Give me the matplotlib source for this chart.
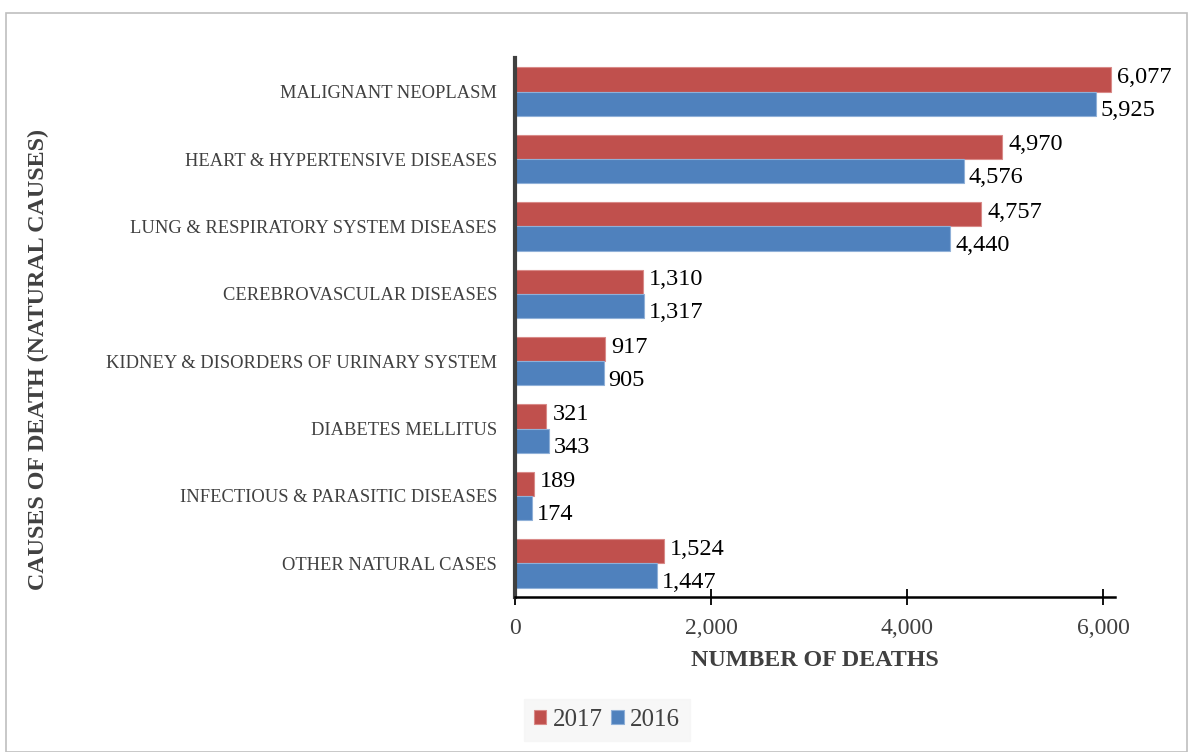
import matplotlib
matplotlib.use("Agg")
import matplotlib.pyplot as plt
import numpy as np
from matplotlib.patches import Rectangle

categories = ["MALIGNANT NEOPLASM", "HEART & HYPERTENSIVE DISEASES",
              "LUNG & RESPIRATORY SYSTEM DISEASES", "CEREBROVASCULAR DISEASES",
              "KIDNEY & DISORDERS OF URINARY SYSTEM", "DIABETES MELLITUS",
              "INFECTIOUS & PARASITIC DISEASES", "OTHER NATURAL CASES"]
deaths_2017 = [6077, 4970, 4757, 1310, 917, 321, 189, 1524]
deaths_2016 = [5925, 4576, 4440, 1317, 905, 343, 174, 1447]
xticks = [0, 2000, 4000, 6000]

plt.rcParams['font.family'] = ['Liberation Serif', 'DejaVu Serif']

fig = plt.figure(figsize=(11.93, 7.52), dpi=100)
fig.patches.append(Rectangle((6/1193, 0.0), 1181/1193, 1 - 13/752, transform=fig.transFigure,
                             fill=False, edgecolor='#bfbfbf', linewidth=1.2))
ax = fig.add_axes([515/1193, 1 - 597/752, (1115-515)/1193, (597-58)/752])

n = len(categories)
y = np.arange(n)
h = 0.36
red = '#C0504D'
blue = '#4F81BD'
b1 = ax.barh(y - h/2, deaths_2017, height=h, color=red, edgecolor='#d98a88', linewidth=0.8, label='2017')
b2 = ax.barh(y + h/2, deaths_2016, height=h, color=blue, edgecolor='#8fb0d8', linewidth=0.8, label='2016')

for yy, v in zip(y - h/2, deaths_2017):
    ax.text(v + 60, yy - 0.03, f"{v:,}", va='center', ha='left', fontsize=17.5, color='black')
for yy, v in zip(y + h/2, deaths_2016):
    ax.text(v + 50, yy + 0.1, f"{v:,}", va='center', ha='left', fontsize=17.5, color='black')

ax.set_ylim(n - 0.5, -0.5)
ax.set_xlim(0, 6120)
ax.set_yticks(y)
ax.set_yticklabels(categories, fontsize=13.3, color='#404040')
ax.tick_params(axis='y', length=0, pad=13)
ax.set_xticks(xticks)
ax.set_xticklabels([f"{t:,}" for t in xticks], fontsize=17, color='#404040')
ax.tick_params(axis='x', direction='inout', length=12, width=1.3, color='black', pad=9)

for s in ['top', 'right']:
    ax.spines[s].set_visible(False)
ax.spines['left'].set_color('#404040')
ax.spines['left'].set_linewidth(3)
ax.spines['bottom'].set_color('black')
ax.spines['bottom'].set_linewidth(1.8)

ax.set_xlabel("NUMBER OF DEATHS", fontsize=17.3, fontweight='bold', color='#404040', labelpad=8)
fig.text(38/1193, 1 - 360/752, "CAUSES OF DEATH (NATURAL CAUSES)", rotation=90,
         fontsize=17.3, fontweight='bold', color='#404040', ha='center', va='center')

leg = fig.legend(handles=[b1, b2], labels=['2017', '2016'], loc='center',
                 bbox_to_anchor=(607/1193, 1 - 720/752), ncol=2, frameon=True,
                 fontsize=18, handlelength=0.5, handleheight=0.5, handletextpad=0.25,
                 columnspacing=0.35, borderpad=0.4, fancybox=False)
leg.get_frame().set_facecolor('#f5f5f5')
leg.get_frame().set_edgecolor('#f5f5f5')
for t in leg.get_texts():
    t.set_color('#404040')

fig.savefig("out.png", dpi=100)
